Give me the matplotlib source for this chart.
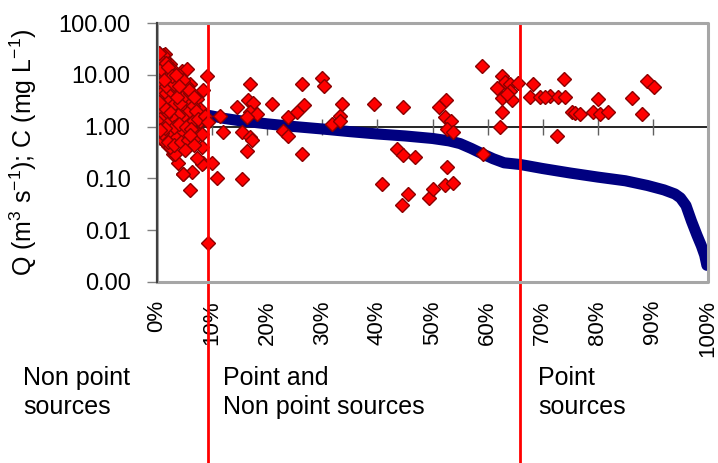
import matplotlib.pyplot as plt
from matplotlib.lines import Line2D
from matplotlib.ticker import FixedLocator, NullLocator, FuncFormatter, PercentFormatter

plt.rcParams['font.family'] = ['Liberation Sans', 'DejaVu Sans']
plt.rcParams['mathtext.fontset'] = 'custom'
plt.rcParams['mathtext.rm'] = 'Liberation Sans'
plt.rcParams['mathtext.it'] = 'Liberation Sans:italic'

# flow duration curve: % of time exceeded, Q (m3/s)
flow_pct = [0, 0.5, 1, 2, 3, 4, 5, 6, 8, 10, 12, 15, 20, 25, 30, 35, 40, 45, 50,
            53, 55, 57, 59, 61, 63, 66, 70, 75, 80, 85, 89, 92, 94, 95, 96, 97,
            98, 98.8, 99.4, 99.8]
flow_q = [29, 15, 8, 4.5, 3.2, 2.6, 2.2, 2.0, 1.75, 1.6, 1.45, 1.3, 1.13, 1.0,
          0.9, 0.8, 0.72, 0.66, 0.59, 0.53, 0.47, 0.38, 0.3, 0.24, 0.2, 0.185,
          0.155, 0.127, 0.106, 0.09, 0.073, 0.06, 0.05, 0.042, 0.03, 0.015,
          0.008, 0.005, 0.0033, 0.0021]

# concentration samples: % of time exceeded, C (mg/L)
conc_pct = [1.5, 2.4, 4.5, 5.4, 9.1, 8.4, 6.0, 6.5, 7.8, 7.4, 8.2, 8.4, 9.9, 4.7,
            6.4, 6.0, 9.3, 3.8, 2.9, 2.0, 0.5, 0.0, 0.2, 0.0, 0.0,
            2.4, 0.5, 1.1, 0.2, 1.8, 3.3, 4.5, 5.4, 5.7, 3.3, 4.8, 7.2, 7.8, 7.8,
            7.2, 0.2, 1.1, 2.4, 3.6, 4.8, 5.4, 6.6, 8.1, 3.3, 4.8, 2.4, 1.1, 8.1,
            0.3, 0.6, 0.9, 1.2, 0.4, 0.8, 1.5, 2.8, 3.2, 2.2, 1.0, 0.3, 0.7, 1.6,
            2.5, 3.5, 4.0, 2.0, 3.0, 4.2, 5.0, 6.0, 6.5, 5.5, 4.5, 3.8, 2.6, 1.4,
            0.6, 0.2, 1.8, 3.0, 4.0, 5.2, 6.2, 0.9, 2.0, 3.0, 4.3, 5.6, 6.8, 1.5,
            0.5, 2.2, 1.0, 0.4, 3.6, 2.0, 1.3, 0.2, 0.6, 1.1, 2.6, 3.8, 4.7, 5.8,
            6.8, 7.0, 7.5, 8.8, 9.3, 6.0, 5.0, 7.3, 1.7, 3.0, 0.1, 0.4, 0.7, 1.6,
            2.0, 2.8, 1.3, 3.5, 4.0,
            11.4, 12.0, 10.9, 14.5, 16.6, 16.9, 17.5, 16.9, 18.1, 16.3, 15.4,
            16.9, 17.2, 16.3, 15.4, 20.8, 23.8, 25.4, 26.3, 26.6, 26.3, 22.8,
            23.8, 29.9, 30.3, 31.7, 33.2, 33.6, 33.2, 39.3, 40.8, 43.5, 44.7,
            44.7, 46.8, 44.4, 45.6, 49.4, 50.1, 51.1, 52.5, 52.3, 53.3, 52.7,
            53.8, 52.7, 52.3, 53.8,
            58.9, 59.2, 62.7, 63.2, 64.1, 61.7, 64.1, 62.7, 64.4, 65.5, 62.6,
            62.3, 63.5, 68.3, 67.7, 69.5, 71.4, 72.8, 74.0, 73.8, 72.6, 75.3,
            75.9, 76.8, 79.2, 80.4, 81.9, 80.1, 86.2, 88.0, 88.9, 90.2, 70.5]
conc_val = [25, 16, 12, 13, 9.6, 5, 6.7, 3.5, 1.8, 0.73, 0.4, 0.2, 0.2, 0.12,
            0.13, 0.06, 0.0056, 0.2, 0.3, 0.43, 0.6, 1.0, 1.8, 4.3, 10,
            10.3, 8.9, 5.7, 3.66, 3.66, 3.4, 6.1, 6.1, 3.2, 2.35, 2.2, 3.4, 2.2,
            1.3, 0.67, 2.03, 0.84, 0.67, 0.62, 0.84, 1.3, 1.3, 0.19, 0.3, 0.123,
            0.4, 0.54, 0.72,
            20, 18, 15, 20, 14, 11, 9, 13, 9, 7, 7, 6, 4.5, 4.5,
            4.8, 5.5, 4.0, 3.0, 2.7, 2.8, 4.0, 4.5, 2.5, 1.8, 1.5, 1.7, 1.5, 1.6,
            1.4, 1.2, 1.1, 1.0, 1.1, 1.0, 0.9, 0.75, 0.5, 0.45, 0.5, 0.55, 0.45,
            0.95, 0.85, 2.0, 2.5, 3.0, 3.8, 8.5, 12, 16, 22, 24, 10.5, 7.5, 8,
            5.2, 3.8, 2.0, 1.4, 1.6, 1.2, 0.7, 0.35, 0.25, 6, 6.5, 22, 26, 13,
            17, 14, 9.5, 8, 10, 6,
            1.6, 0.77, 0.1, 2.35, 3.2, 6.6, 2.9, 1.88, 1.75, 1.5, 0.8,
            0.62, 0.54, 0.345, 0.099, 2.73, 1.5, 1.88, 6.6, 2.6, 0.30, 0.84,
            0.67, 8.5, 6.1, 1.13, 1.63, 2.73, 1.3, 2.73, 0.079, 0.37, 0.28,
            2.35, 0.26, 0.030, 0.05, 0.042, 0.062, 2.35, 3.2, 1.5, 1.3, 0.9,
            0.78, 0.165, 0.073, 0.08,
            14.9, 0.30, 9.3, 7.4, 6.6, 5.5, 4.9, 3.6, 3.2, 7.1, 1.95,
            0.98, 4.2, 6.6, 3.8, 3.66, 3.95, 3.66, 3.66, 8.3, 0.67, 1.88,
            1.8, 1.75, 1.88, 1.75, 1.88, 3.4, 3.5, 1.75, 7.7, 5.7, 3.8]

boundaries = [9.3, 65.9]
y_ticks = [0.001, 0.01, 0.1, 1, 10, 100]
x_ticks = [0, 10, 20, 30, 40, 50, 60, 70, 80, 90, 100]

fig = plt.figure(figsize=(7.18, 4.63), dpi=100)
ax = fig.add_axes([157 / 718, 1 - 282 / 463, 551 / 718, 259 / 463])

ax.plot(flow_pct, flow_q, color='#000080', lw=8, solid_capstyle='round', zorder=2)
ax.plot(conc_pct, conc_val, ls='none', marker='D', ms=7.3, mfc='#ff0000',
        mec='#8b0000', mew=1.0, zorder=3)

for b in boundaries:
    ax.axvline(b, ymin=-0.7, ymax=1, color='#ff0000', lw=2, clip_on=False, zorder=5)

ax.set_yscale('log')
ax.set_ylim(0.001, 100)
ax.set_xlim(0, 100)
ax.yaxis.set_major_locator(FixedLocator(y_ticks))
ax.yaxis.set_minor_locator(NullLocator())
ax.yaxis.set_major_formatter(FuncFormatter(lambda v, p: f'{v:.2f}'))
ax.tick_params(axis='y', direction='out', length=7, width=1, color='#808080',
               pad=12, labelsize=17, right=False)

# horizontal axis crosses at 1.00, labels stay at the bottom
ax.spines['bottom'].set_position(('data', 1))
ax.spines['bottom'].set_color('black')
ax.spines['bottom'].set_linewidth(1.2)
ax.spines['bottom'].set_zorder(1)
ax.spines['top'].set_visible(False)
ax.spines['right'].set_visible(False)
ax.spines['left'].set_color('#404040')
ax.spines['left'].set_linewidth(1.5)
ax.set_xticks(x_ticks)
ax.tick_params(axis='x', direction='inout', length=11, width=1, color='#606060',
               labelbottom=False, top=False)

sec = ax.secondary_xaxis(0.0)
sec.set_xticks(x_ticks)
sec.xaxis.set_major_formatter(PercentFormatter(decimals=0))
sec.tick_params(length=0, pad=13, labelsize=16, labelrotation=90)
sec.spines['bottom'].set_visible(False)
sec.spines['top'].set_visible(False)

# light grey plot-area frame (Excel style), drawn at figure level
frame = Line2D([0, 0, 1, 1, 0], [0, 1, 1, 0, 0], transform=ax.transAxes,
               color='#a6a6a6', lw=2.2)
fig.add_artist(frame)
left_axis = Line2D([0, 0], [0, 1], transform=ax.transAxes, color='#404040', lw=1.5)
fig.add_artist(left_axis)

ax.set_ylabel(r'Q (m$^{3}$ s$^{-1}$); C (mg L$^{-1}$)', fontsize=18)
ax.yaxis.set_label_coords(-0.215, 0.5)

fig.text(23 / 718, 0.21, 'Non point\nsources', fontsize=18, va='top', linespacing=1.3)
fig.text(223 / 718, 0.21, 'Point and\nNon point sources', fontsize=18, va='top', linespacing=1.3)
fig.text(538 / 718, 0.21, 'Point\nsources', fontsize=18, va='top', linespacing=1.3)

fig.savefig('out.png', dpi=100)
